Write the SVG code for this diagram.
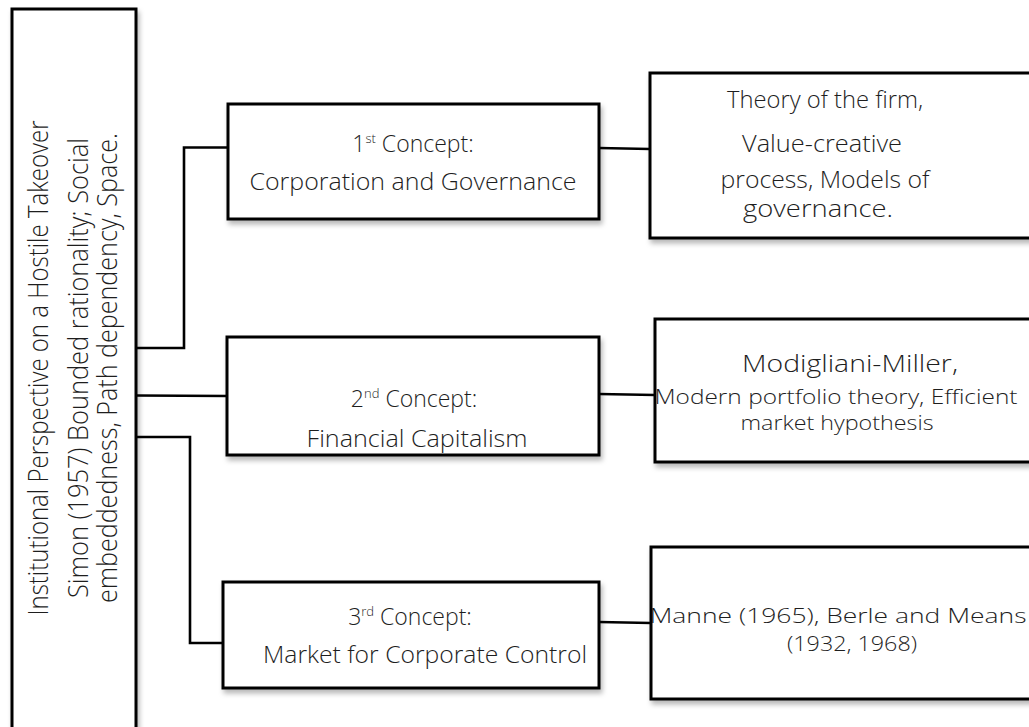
<svg xmlns="http://www.w3.org/2000/svg" width="1029" height="727" viewBox="0 0 1029 727">
  <defs>
    <filter id="shadow" x="-10%" y="-10%" width="130%" height="140%">
      <feDropShadow dx="2" dy="4" stdDeviation="2.5" flood-color="#000" flood-opacity="0.28"/>
    </filter>
    <style>
      .box { fill: #fff; stroke: #000; stroke-width: 3; filter: url(#shadow); }
      .link { fill: none; stroke: #000; stroke-width: 2.6; stroke-linejoin: miter; }
      text { font-family: "Open Sans", Lato, "Liberation Sans", sans-serif; font-weight: 300; fill: #1e1e1e; text-anchor: middle; }
      .t21 { font-size: 23px; }
      .t22 { font-size: 23px; }
      .tight { font-size: 21px; }
      .tighter { font-size: 20px; }
      .side { font-size: 28px; }
      .sup { font-size: 13px; }
    </style>
  </defs>
  <rect width="1029" height="727" fill="#fff"/>

  <!-- connectors -->
  <g id="connectors">
    <polyline class="link" points="136,348 184,348 184,147.5 228,147.5"/>
    <polyline class="link" points="136,395.5 228,396"/>
    <polyline class="link" points="136,437 190,437 190,643 223,643"/>
    <polyline class="link" points="599,148 650,149"/>
    <polyline class="link" points="599,394 655,395"/>
    <polyline class="link" points="599,622 651,623"/>
  </g>

  <!-- root: institutional perspective -->
  <g id="root">
    <rect class="box" x="12" y="9" width="124" height="740"/>
    <text class="side" transform="translate(48,368) rotate(-90)" textLength="495" lengthAdjust="spacingAndGlyphs">Institutional Perspective on a Hostile Takeover</text>
    <text class="side" transform="translate(88,368) rotate(-90)" textLength="460" lengthAdjust="spacingAndGlyphs">Simon (1957) Bounded rationality; Social</text>
    <text class="side" transform="translate(117,368) rotate(-90)" textLength="470" lengthAdjust="spacingAndGlyphs">embeddedness, Path dependency, Space.</text>
  </g>

  <!-- concept 1 -->
  <g id="concept1">
    <rect class="box" x="228" y="104" width="371" height="115"/>
    <text class="t21" x="413" y="152"><tspan>1</tspan><tspan class="sup" dy="-9">st</tspan><tspan dy="9"> Concept:</tspan></text>
    <text class="t21" x="413" y="190" textLength="327" lengthAdjust="spacingAndGlyphs">Corporation and Governance</text>
  </g>

  <!-- concept 2 -->
  <g id="concept2">
    <rect class="box" x="227" y="337" width="372" height="118"/>
    <text class="t21" x="414" y="407"><tspan>2</tspan><tspan class="sup" dy="-9">nd</tspan><tspan dy="9"> Concept:</tspan></text>
    <text class="t21" x="417" y="447" textLength="221" lengthAdjust="spacingAndGlyphs">Financial Capitalism</text>
  </g>

  <!-- concept 3 -->
  <g id="concept3">
    <rect class="box" x="223" y="582" width="376" height="106"/>
    <text class="t21" x="410" y="625"><tspan>3</tspan><tspan class="sup" dy="-9">rd</tspan><tspan dy="9"> Concept:</tspan></text>
    <text class="t21" x="425" y="663" textLength="324" lengthAdjust="spacingAndGlyphs">Market for Corporate Control</text>
  </g>

  <!-- literature 1 -->
  <g id="literature1">
    <rect class="box" x="650" y="73" width="400" height="165"/>
    <text class="t22" x="825" y="108" textLength="196" lengthAdjust="spacingAndGlyphs">Theory of the firm,</text>
    <text class="t22" x="822" y="152" textLength="160" lengthAdjust="spacingAndGlyphs">Value-creative</text>
    <text class="t22" x="825" y="188" textLength="209" lengthAdjust="spacingAndGlyphs">process, Models of</text>
    <text class="t22" x="818" y="217" textLength="150" lengthAdjust="spacingAndGlyphs">governance.</text>
  </g>

  <!-- literature 2 -->
  <g id="literature2">
    <rect class="box" x="655" y="319" width="400" height="143"/>
    <text class="t22" x="850" y="372" textLength="216" lengthAdjust="spacingAndGlyphs">Modigliani-Miller,</text>
    <text class="tight" x="836" y="404" textLength="363" lengthAdjust="spacingAndGlyphs">Modern portfolio theory, Efficient</text>
    <text class="tight" x="837" y="430" textLength="193" lengthAdjust="spacingAndGlyphs">market hypothesis</text>
  </g>

  <!-- literature 3 -->
  <g id="literature3">
    <rect class="box" x="651" y="547" width="400" height="152"/>
    <text class="tighter" x="838" y="623" textLength="377" lengthAdjust="spacingAndGlyphs">Manne (1965), Berle and Means</text>
    <text class="tighter" x="852" y="651" textLength="130" lengthAdjust="spacingAndGlyphs">(1932, 1968)</text>
  </g>
</svg>
